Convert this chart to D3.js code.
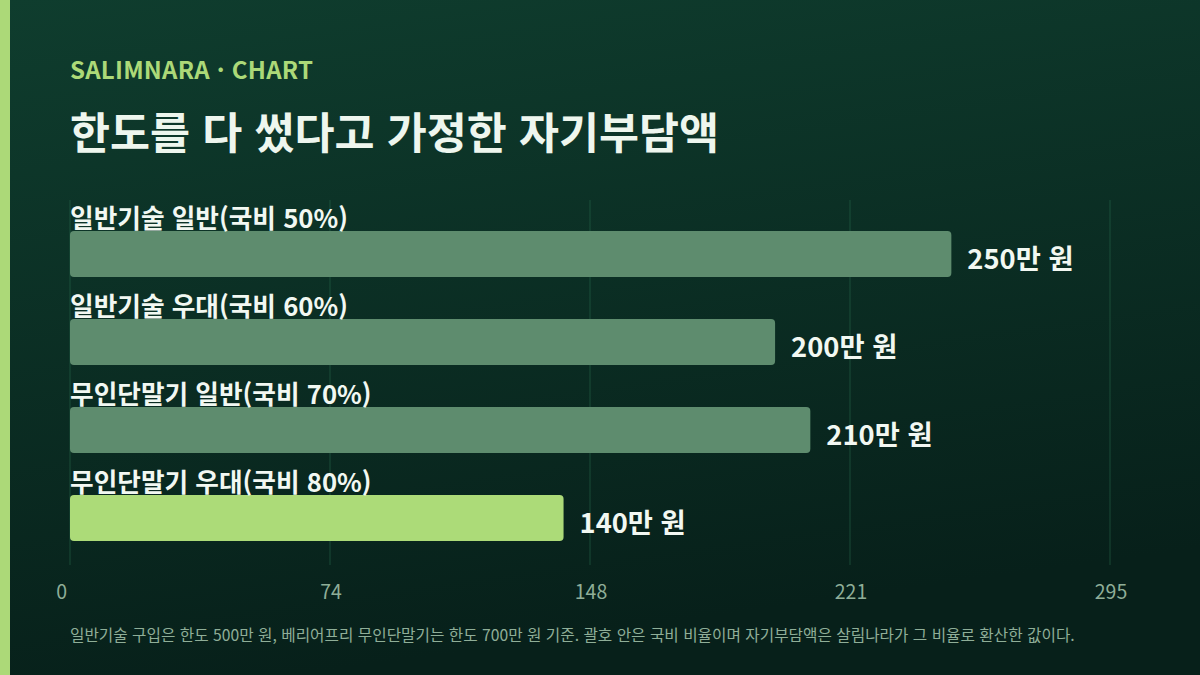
<!DOCTYPE html>
<html lang="ko">
<head>
<meta charset="UTF-8">
<title>한도를 다 썼다고 가정한 자기부담액</title>
<script src="https://d3js.org/d3.v7.min.js"></script>
<style>
    body {
        margin: 0;
        width: 1200px;
        height: 675px;
        overflow: hidden;
        font-family: "Noto Sans CJK KR", "Noto Sans", sans-serif;
    }
    svg { display: block; }
</style>
</head>
<body>
<svg id="chart" width="1200" height="675"></svg>
<script>
    // chart data
    const categories = [
        "일반기술 일반(국비 50%)",
        "일반기술 우대(국비 60%)",
        "무인단말기 일반(국비 70%)",
        "무인단말기 우대(국비 80%)"
    ];
    const values = [250, 200, 210, 140];           // 자기부담액, 만 원
    const highlight = [false, false, false, true];
    const tickValues = [0, 73.75, 147.5, 221.25, 295];
    const tickLabels = ["0", "74", "148", "221", "295"];

    const width = 1200;
    const height = 675;
    const left = 70;
    const right = 1110;

    const svg = d3.select("#chart");

    // background
    const defs = svg.append("defs");
    const grad = defs.append("linearGradient")
        .attr("id", "bg")
        .attr("x1", "0").attr("y1", "0")
        .attr("x2", "0.25").attr("y2", "1");
    grad.append("stop").attr("offset", "0%").attr("stop-color", "#0f3d2e");
    grad.append("stop").attr("offset", "100%").attr("stop-color", "#07201a");

    svg.append("rect")
        .attr("width", width).attr("height", height)
        .attr("fill", "url(#bg)");

    svg.append("rect")
        .attr("width", 10).attr("height", height)
        .attr("fill", "#acd978");

    // header
    svg.append("text")
        .attr("x", left).attr("y", 79)
        .attr("fill", "#acd978")
        .attr("font-size", 24)
        .attr("font-weight", 700)
        .attr("letter-spacing", 0.25)
        .text("SALIMNARA · CHART");

    svg.append("text")
        .attr("x", left).attr("y", 149)
        .attr("fill", "#eef6ee")
        .attr("font-size", 43.5)
        .attr("font-weight", 700)
        .text("한도를 다 썼다고 가정한 자기부담액");

    // scales
    const x = d3.scaleLinear().domain([0, 295]).range([left, right]);
    const y = d3.scaleBand()
        .domain(categories)
        .range([231, 541])
        .paddingInner(42 / 88)
        .paddingOuter(0);

    // gridlines
    svg.append("g")
        .selectAll("line")
        .data(tickValues)
        .join("line")
        .attr("x1", d => x(d)).attr("x2", d => x(d))
        .attr("y1", 200).attr("y2", 565)
        .attr("stroke", "#2a6a4f")
        .attr("stroke-opacity", 0.55)
        .attr("stroke-width", 1);

    // tick labels
    svg.append("g")
        .selectAll("text")
        .data(tickValues)
        .join("text")
        .attr("x", (d, i) => i === 0 ? x(d) - 3 : x(d) + 1)
        .attr("y", 599)
        .attr("text-anchor", (d, i) => i === 0 ? "end" : "middle")
        .attr("fill", "#8fae98")
        .attr("font-size", 19.5)
        .text((d, i) => tickLabels[i]);

    // bars
    const rows = categories.map((c, i) => ({ name: c, value: values[i], hi: highlight[i] }));

    const row = svg.append("g")
        .selectAll("g")
        .data(rows)
        .join("g");

    row.append("rect")
        .attr("x", x(0))
        .attr("y", d => y(d.name))
        .attr("width", d => x(d.value) - x(0))
        .attr("height", y.bandwidth())
        .attr("rx", 4)
        .attr("fill", d => d.hi ? "#acdb78" : "#5e8c6e");

    row.append("text")
        .attr("x", x(0))
        .attr("y", d => y(d.name) - 3)
        .attr("fill", "#f2f8f2")
        .attr("font-size", 25.7)
        .attr("font-weight", 700)
        .text(d => d.name);

    row.append("text")
        .attr("x", d => x(d.value) + 16)
        .attr("y", d => y(d.name) + y.bandwidth() / 2 + 15)
        .attr("fill", "#f2f8f2")
        .attr("font-size", 27.3)
        .attr("font-weight", 700)
        .text(d => d.value + "만 원");

    // footnote
    svg.append("text")
        .attr("x", left).attr("y", 641)
        .attr("fill", "#8fae98")
        .attr("font-size", 15.7)
        .text("일반기술 구입은 한도 500만 원, 베리어프리 무인단말기는 한도 700만 원 기준. 괄호 안은 국비 비율이며 자기부담액은 살림나라가 그 비율로 환산한 값이다.");
</script>
</body>
</html>
